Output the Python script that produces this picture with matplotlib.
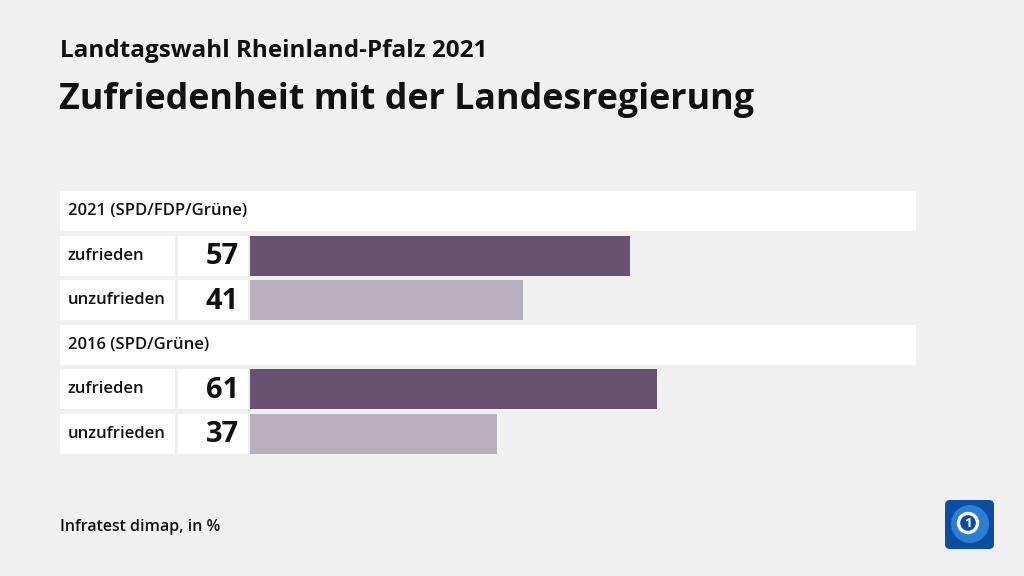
import matplotlib
matplotlib.use("Agg")
import matplotlib.pyplot as plt
from matplotlib.patches import Rectangle, FancyBboxPatch, Circle

groups = ["2021 (SPD/FDP/Grüne)", "2016 (SPD/Grüne)"]
categories = ["zufrieden", "unzufrieden"]
values = [[57, 41], [61, 37]]
colors = ["#67536f", "#b9b0bf"]

title = "Zufriedenheit mit der Landesregierung"
subtitle = "Landtagswahl Rheinland-Pfalz 2021"
source = "Infratest dimap, in %"

plt.rcParams['font.family'] = ['Open Sans', 'DejaVu Sans']
W, H = 1024, 576
fig = plt.figure(figsize=(W/100, H/100), dpi=100)
fig.patch.set_facecolor("#f0f0f0")

bg = fig.add_axes([0, 0, 1, 1])
bg.set_xlim(0, W)
bg.set_ylim(H, 0)
bg.axis("off")

bg.text(60, 51, subtitle, fontsize=17.5, fontweight="bold", va="center", ha="left", color="#111111")
bg.text(59, 100, title, fontsize=25.8, fontweight="bold", va="center", ha="left", color="#111111")
bg.text(60, 527, source, fontsize=11.5, fontweight="semibold", va="center", ha="left", color="#111111")

pitch = 44.6
top = 188.7
row_h = 40
rows = []
for g, grp in enumerate(groups):
    rows.append(("header", grp, None, None))
    for c, cat in enumerate(categories):
        rows.append(("bar", cat, values[g][c], colors[c]))

for i, (kind, label, val, col) in enumerate(rows):
    cy = top + pitch * (i + 0.5)
    y0 = cy - row_h / 2
    if kind == "header":
        bg.add_patch(Rectangle((60, y0), 856, row_h, facecolor="white", edgecolor="none"))
        bg.text(68, cy, label, fontsize=12, fontweight="semibold", va="center", ha="left", color="#111111")
    else:
        bg.add_patch(Rectangle((60, y0), 115, row_h, facecolor="white", edgecolor="none"))
        bg.add_patch(Rectangle((178, y0), 70, row_h, facecolor="white", edgecolor="none"))
        bg.text(68, cy, label, fontsize=12, fontweight="semibold", va="center", ha="left", color="#111111")
        bg.text(239, cy + 1, str(val), fontsize=21, fontweight="bold", va="center", ha="right", color="#111111")

n = len(rows)
ax = fig.add_axes([250 / W, 1 - (top + pitch * n) / H, 667 / W, pitch * n / H])
ax.set_xlim(0, 100)
ax.set_ylim(n - 0.5, -0.5)
ax.axis("off")
ax.patch.set_alpha(0)
for i, (kind, label, val, col) in enumerate(rows):
    if kind == "bar":
        ax.barh(i, val, height=row_h / pitch, color=col, left=0, edgecolor="none")

bg.add_patch(FancyBboxPatch((945, 500), 49, 49, boxstyle="round,pad=0,rounding_size=5",
                            facecolor="#0b4da2", edgecolor="none"))
bg.add_patch(Circle((970, 524), 19, facecolor="#2a7fd4", edgecolor="none"))
bg.add_patch(Circle((968, 523), 9.5, facecolor="#0b4da2", edgecolor="white", linewidth=2.4))
bg.text(968, 523.5, "1", fontsize=9.5, fontweight="bold", color="white", ha="center", va="center")

fig.savefig("out.png", dpi=100, facecolor=fig.get_facecolor())
